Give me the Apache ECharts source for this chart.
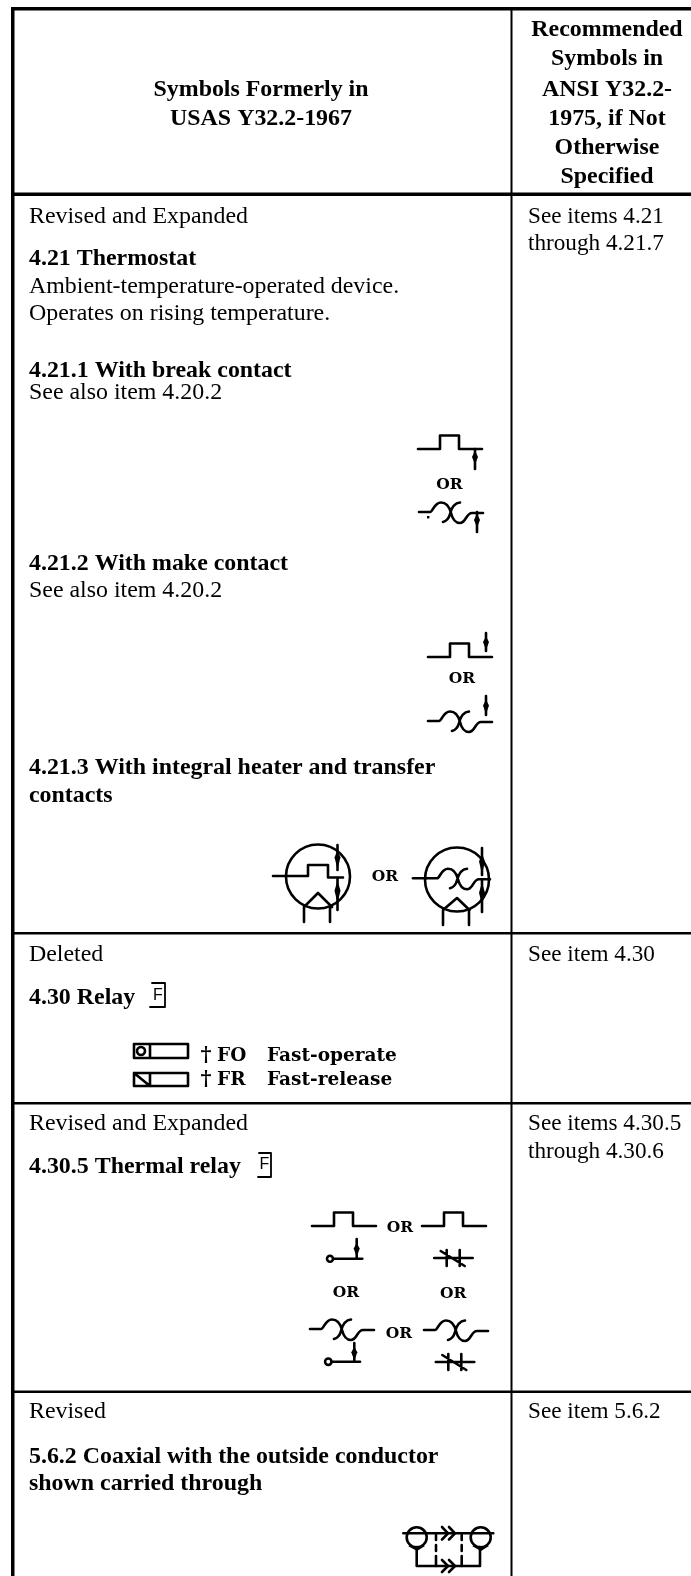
<!DOCTYPE html>
<html><head><meta charset="utf-8">
<style>html,body{margin:0;padding:0;background:#fff}#c{width:691px;height:1576px}</style>
<script src="https://cdn.jsdelivr.net/npm/echarts@6/dist/echarts.min.js"></script>
</head><body><div id="c"></div>
<script>
// ---- text content ----
const headerLeft = ['Symbols Formerly in','USAS Y32.2-1967'];
const headerRight = ['Recommended','Symbols in','ANSI Y32.2-','1975, if Not','Otherwise','Specified'];
const thermostatBody = ['Revised and Expanded','Ambient-temperature-operated device.','Operates on rising temperature.','See also item 4.20.2','See also item 4.20.2'];
const thermostatBold = ['4.21 Thermostat','4.21.1 With break contact','4.21.2 With make contact','4.21.3 With integral heater and transfer','contacts'];
const relayCell = ['Deleted','4.30 Relay','Revised and Expanded','4.30.5 Thermal relay','Revised','5.6.2 Coaxial with the outside conductor','shown carried through'];
const rightCell = ['See items 4.21','through 4.21.7','See item 4.30','See items 4.30.5','through 4.30.6','See item 5.6.2'];
const relayCodes = ['FO','FR'];
const relayNames = ['Fast-operate','Fast-release'];

// ---- layout ----
const SERIF='"Liberation Serif","Times New Roman",serif', CLAR='"DejaVu Serif",serif', SANS='"Liberation Sans",sans-serif';
const B={fontSize:23.9,fontWeight:'bold',fontFamily:SERIF}, N={fontSize:23.9,fontWeight:'normal',fontFamily:SERIF}, R={fontSize:23.2,fontWeight:'normal',fontFamily:SERIF};
const OR={fontSize:15.5,fontWeight:'bold',fontFamily:CLAR}, C={fontSize:18.5,fontWeight:'bold',fontFamily:CLAR}, F={fontSize:16,fontWeight:'normal',fontFamily:SANS};
const texts=[];
const T=(x,y,s,st,al)=>texts.push({x,y:y+2,s,st,al:al||'left'});
[88,117].forEach((y,i)=>T(261,y,headerLeft[i],B,'center'));
[28,57,88,117,146,175].forEach((y,i)=>T(607,y,headerRight[i],B,'center'));
[215,285,312,391,589].forEach((y,i)=>T(29,y,thermostatBody[i],N));
[257,369,562,766,794].forEach((y,i)=>T(29,y,thermostatBold[i],B));
[[953,0,N],[996,1,B],[1122,2,N],[1165,3,B],[1410,4,N],[1455,5,B],[1482,6,B]].forEach(r=>T(29,r[0],relayCell[r[1]],r[2]));
[215,242,953,1122,1150,1410].forEach((y,i)=>T(528,y,rightCell[i],R));
[[449.5,483],[462,677],[400,1226],[346,1291],[453.3,1292],[399,1332]].forEach(p=>T(p[0],p[1],'OR',OR,'center'));
T(385,875,'OR',OR,'center');
[1054,1078].forEach((y,i)=>{T(206,y,'\u2020',{...C,fontSize:21},'center');T(217,y,relayCodes[i],C);T(267,y,relayNames[i],C);});
T(158,994,'F',F,'center');T(264.5,1163,'F',F,'center');

// table rules [x,y,w,h]
const rules=[[11,7,680,3.5],[11,192.5,680,3.5],[11,7,3.5,1569],[510.5,7,2,1569],[11,932,680,2.5],[11,1102,680,2.5],[11,1390.5,680,2.5]];

// schematic glyphs in local units: s = stroke path, f = filled path
const WAVE='M0 0L11 0C14 0 15 -9.5 22 -9.5C29 -9.5 31 -3 32 1C33.5 7 36 11 41 11C47 11 47 1 53 1L64 1M41 -9.5C35 -9 32 -2 31 2C30 6 28 9 24 10';
const BUMP='M0 0L22 0L22 -13.5L41 -13.5L41 0L64 0';
const arrowDown=(l)=>({s:`M0 0L0 ${l}`,f:`M0 ${l*0.95}L3 ${l*0.5}L0 ${l*0.2}L-3 ${l*0.5}Z`});
const arrowUp=(l)=>({s:`M0 0L0 ${l}`,f:`M0 ${l*0.08}L3 ${l*0.4}L0 ${l*0.78}L-3 ${l*0.4}Z`});
const path=[];
const G=(x,y,s,f,w)=>path.push({x,y,s,f,w:w||2.6});
const A=(x,y,g)=>G(x,y,g.s,g.f);
// 4.21.1
G(418,449,BUMP);A(475,449,arrowUp(20));G(419,512,WAVE);A(477,512,arrowUp(20));G(427,516,'',"M0 0h2.4v2.4h-2.4Z");
// 4.21.2
G(428,657,BUMP);A(486,633,arrowDown(18));G(428,721,WAVE);A(486,696,arrowDown(19));
// 4.21.3
const circle=r=>`M${-r} 0A${r} ${r} 0 1 1 ${r} 0A${r} ${r} 0 1 1 ${-r} 0Z`;
G(318,876.5,circle(32));
G(0,0,'M273 876L308 876L308 865L328 865L328 877.5L343 877.5');
A(337.5,845,arrowDown(25));A(337.5,878,arrowUp(32));
G(0,0,'M304 922L304 907L318 893L332 907M330 907L330 922');
G(457,879.5,circle(32));
G(0,0,'M413 878.3L426 878.3');G(426,878.3,WAVE);
A(482,848,arrowDown(27));A(482,880,arrowUp(32));
G(0,0,'M443 925L443 910L457 898L469.5 910M469 910L469 925');
// 4.30 relay rectangles
G(0,0,'M134 1044L188 1044L188 1058L134 1058Z M150 1044L150 1058');G(141,1051,circle(4));
G(0,0,'M134 1073L188 1073L188 1086L134 1086Z M150 1073L150 1086 M134 1073L150 1086');
// F boxes
G(0,0,'M152 983L165 983L165 1007L150 1007',null,1.8);
G(0,0,'M259 1153L271 1153L271 1177L258 1177',null,1.8);
// 4.30.5
G(312,1226,BUMP);G(422,1226,BUMP);
G(330,1258.7,circle(3));G(0,0,'M333 1258.7L362.3 1258.7');A(356.7,1239,arrowDown(19));
const NC='M-12.5 0L26 0M0 -8L0 8M13 -8L13 8M-6 -7L18 8';
G(446.7,1258,NC);
G(310,1329,WAVE);G(424,1330,WAVE);
G(328.3,1361.7,circle(3.2));G(0,0,'M331.5 1361.7L360 1361.7');A(354.3,1343,arrowDown(18.7));
G(448.3,1362,NC);
// 5.6.2 coaxial
G(416.7,1537.3,circle(10));G(480.7,1537.3,circle(10));
G(0,0,'M403.3 1533.3L493.3 1533.3M416.7 1547L416.7 1566L480 1566L480 1547');
G(0,0,'M442 1527L448 1533.3L442 1539.5M449 1527L455 1533.3L449 1539.5M442 1560L448 1566L442 1572M449 1560L455 1566L449 1572');
G(0,0,'M436 1535L436 1540M436 1545L436 1551M436 1556L436 1566M461.7 1535L461.7 1540M461.7 1545L461.7 1551M461.7 1556L461.7 1566');
G(0,0,'','M408 1546L425 1546L417 1551Z');G(0,0,'','M472 1546L489 1546L481 1551Z');

const items=[...rules.map(r=>({k:'r',r})),...path.map(p=>({k:'p',p})),...texts.map(t=>({k:'t',t}))];
const anchor=it=>it.k==='r'?[it.r[0],it.r[1]]:it.k==='p'?[it.p.x,it.p.y]:[it.t.x,it.t.y];

function renderItem(params,api){
  const it=items[api.value(2)];
  const o=api.coord([api.value(0),api.value(1)]);
  if(it.k==='r'){
    return {type:'rect',shape:{x:o[0],y:o[1],width:it.r[2],height:it.r[3]},style:{fill:'#000'}};
  }
  if(it.k==='t'){
    const t=it.t;
    return {type:'text',x:o[0],y:o[1],style:{text:t.s,fontSize:t.st.fontSize,fontWeight:t.st.fontWeight,fontFamily:t.st.fontFamily,fill:'#000',align:t.al,verticalAlign:'middle'}};
  }
  const p=it.p,ch=[];
  if(p.s)ch.push({type:'path',shape:{pathData:p.s},style:{fill:null,stroke:'#000',lineWidth:p.w,lineCap:'round',lineJoin:'round'}});
  if(p.f)ch.push({type:'path',shape:{pathData:p.f},style:{fill:'#000',stroke:null}});
  return {type:'group',x:o[0],y:o[1],children:ch};
}
const chart=echarts.init(document.getElementById('c'),null,{renderer:'canvas'});
chart.setOption({
  animation:false,backgroundColor:'#fff',
  grid:{left:0,right:0,top:0,bottom:0},
  xAxis:{type:'value',min:0,max:691,show:false},
  yAxis:{type:'value',min:0,max:1576,inverse:true,show:false},
  series:[{type:'custom',coordinateSystem:'cartesian2d',silent:true,clip:false,
    renderItem,encode:{x:0,y:1},data:items.map((it,i)=>[...anchor(it),i])}]
});
</script></body></html>
